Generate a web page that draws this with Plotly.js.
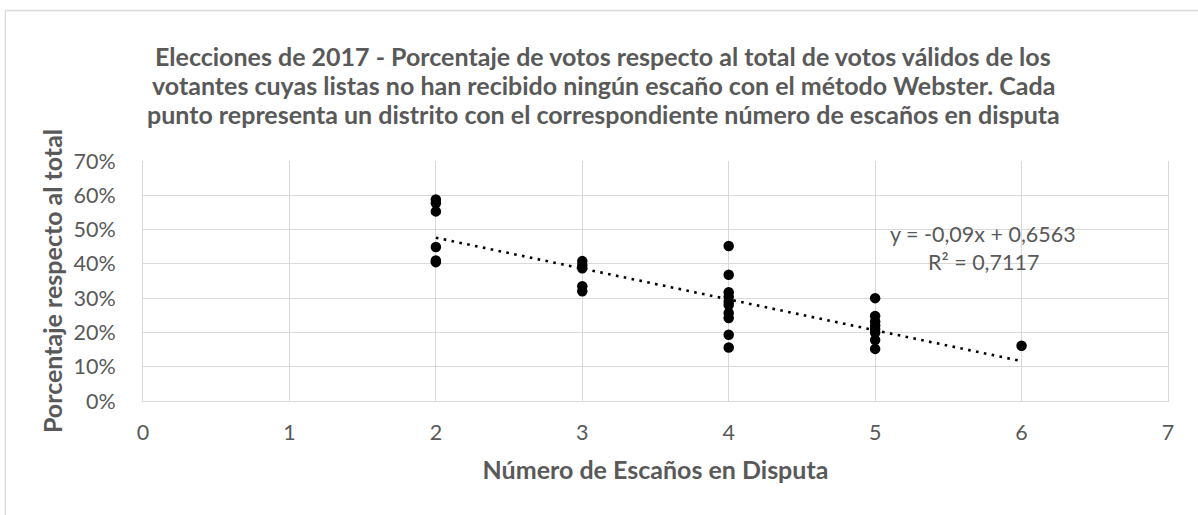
<!DOCTYPE html>
<html>
<head>
<meta charset="utf-8">
<script src="https://cdn.plot.ly/plotly-3.0.1.min.js"></script>
<style>
  html, body { margin: 0; padding: 0; background: #ffffff; }
  #chart { width: 1198px; height: 515px; }
</style>
</head>
<body>
<div id="chart"></div>
<script>
// ---- data ----
const seatsX2 = [2, 2, 2, 2, 2, 2];
const pctX2   = [0.588, 0.577, 0.553, 0.449, 0.410, 0.405];
const seatsX3 = [3, 3, 3, 3, 3];
const pctX3   = [0.408, 0.397, 0.387, 0.335, 0.320];
const seatsX4 = [4, 4, 4, 4, 4, 4, 4, 4, 4, 4];
const pctX4   = [0.452, 0.368, 0.317, 0.304, 0.290, 0.280, 0.257, 0.242, 0.193, 0.156];
const seatsX5 = [5, 5, 5, 5, 5, 5, 5, 5];
const pctX5   = [0.300, 0.248, 0.232, 0.220, 0.210, 0.200, 0.178, 0.152];
const seatsX6 = [6];
const pctX6   = [0.161];

// trendline as reported by the chart
const trendSlope = -0.09;
const trendIntercept = 0.6563;
const trendR2 = 0.7117;
const trendXRange = [2, 6];

const xTickVals = [0, 1, 2, 3, 4, 5, 6, 7];
const yTickVals = [0, 0.1, 0.2, 0.3, 0.4, 0.5, 0.6, 0.7];

const titleLines = [
  "Elecciones de 2017 - Porcentaje de votos respecto al total de votos válidos de los",
  "votantes cuyas listas no han recibido ningún escaño con el método Webster. Cada",
  "punto representa un distrito con el correspondiente número de escaños en disputa"
];
const xTitle = "Número de Escaños en Disputa";
const yTitle = "Porcentaje respecto al total";

// ---- build ----
const allX = [].concat(seatsX2, seatsX3, seatsX4, seatsX5, seatsX6);
const allY = [].concat(pctX2, pctX3, pctX4, pctX5, pctX6);
const trendY = trendXRange.map(x => trendSlope * x + trendIntercept);

const fmt = v => String(v).replace('.', ',');
const eqLines = [
  "y = " + fmt(trendSlope) + "x + " + fmt(trendIntercept),
  "R² = " + fmt(trendR2)
];

const FONT = "Lato, 'Open Sans', sans-serif";
const GREY = "#595959";
const GRID = "#d9d9d9";
const BOLD = 25;
const REG = 21.5;

const traces = [
  {
    x: trendXRange, y: trendY, type: "scatter", mode: "lines",
    line: { color: "#000000", width: 2.6, dash: "2.6px,5.4px" },
    hoverinfo: "skip", showlegend: false
  },
  {
    x: allX, y: allY, type: "scatter", mode: "markers",
    marker: { color: "#000000", size: 10.5 },
    showlegend: false
  }
];

// plot area: left 143, right 1168, top 161, bottom 401 (px)
const H = 515;
const titleCentersPx = [56, 85, 114];
const titleAnn = titleLines.map((t, i) => ({
  xref: "paper", yref: "paper",
  x: (603 - 143) / 1025, y: (401 - titleCentersPx[i]) / 240,
  xanchor: "center", yanchor: "middle", showarrow: false,
  text: "<b>" + t + "</b>",
  font: { family: FONT, size: BOLD, color: GREY }
}));
const eqCentersPx = [234, 262];
const eqAnn = eqLines.map((t, i) => ({
  xref: "paper", yref: "paper",
  x: (983 - 143) / 1025, y: (401 - eqCentersPx[i]) / 240,
  xanchor: "center", yanchor: "middle", showarrow: false,
  text: t, font: { family: FONT, size: REG, color: GREY }
}));

const layout = {
  width: 1198, height: H,
  paper_bgcolor: "#ffffff", plot_bgcolor: "#ffffff",
  margin: { l: 143, r: 30, t: 161, b: 114 },
  font: { family: FONT, color: GREY, size: REG },
  xaxis: {
    range: [0, 7], tickvals: xTickVals, ticktext: xTickVals.map(String),
    showgrid: true, gridcolor: GRID, gridwidth: 1,
    showline: true, linecolor: GRID, linewidth: 1,
    zeroline: false, ticks: "", ticklabelstandoff: 12,
    tickfont: { family: FONT, size: REG, color: GREY },
    title: { text: xTitle, standoff: 17, font: { family: FONT, size: BOLD, color: GREY, weight: "bold" } }
  },
  yaxis: {
    range: [0, 0.7], tickvals: yTickVals, tickformat: ".0%",
    showgrid: true, gridcolor: GRID, gridwidth: 1,
    showline: true, linecolor: GRID, linewidth: 1, mirror: true,
    zeroline: false, ticks: "", ticklabelstandoff: 22,
    tickfont: { family: FONT, size: REG, color: GREY },
    title: { text: yTitle, standoff: 3, font: { family: FONT, size: BOLD, color: GREY, weight: "bold" } }
  },
  annotations: titleAnn.concat(eqAnn),
  shapes: [
    {
      type: "rect", xref: "paper", yref: "paper",
      x0: -0.1343, x1: 1.05, y0: -0.6, y1: 1.627,
      line: { color: GRID, width: 1.3 }, fillcolor: "rgba(0,0,0,0)", layer: "below"
    }
  ],
  showlegend: false
};

Plotly.newPlot("chart", traces, layout, { displayModeBar: false, responsive: false });
</script>
</body>
</html>
